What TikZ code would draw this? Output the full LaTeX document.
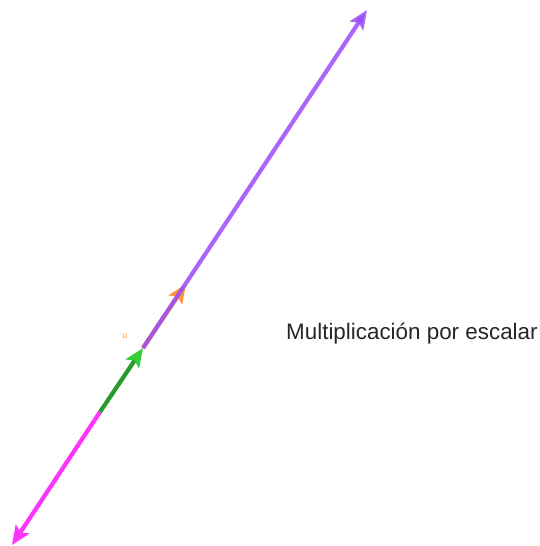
\documentclass[tikz,border=0pt]{standalone}
\usepackage{fontspec}
\setmainfont{Liberation Sans}
\usetikzlibrary{arrows.meta}
\definecolor{vpurple}{RGB}{155,75,250}
\definecolor{vmagenta}{RGB}{255,50,255}
\definecolor{vgreen}{RGB}{55,205,55}
\definecolor{vorange}{RGB}{255,150,60}
\tikzset{
  vec/.style={line width=4.2pt, -{Stealth[length=19pt,width=16pt,inset=4pt]}},
}
\begin{document}
\begin{tikzpicture}[x=1pt,y=-1pt]
\useasboundingbox (0,0) rectangle (539,546);
\coordinate (A) at (100,412);
\coordinate (B) at (143,348);
\coordinate (U) at (186,284);
\coordinate (P) at (367,10);
\coordinate (M) at (12,545);
\draw[vec, vmagenta] (A) -- (M);
\draw[line width=4.2pt, vgreen!75!black, -{Stealth[length=19pt,width=16pt,inset=4pt,color=vgreen]}] (A) -- (B);
\draw[vec, vorange] (B) -- (U);
\draw[vec, vpurple, opacity=0.85] (B) -- (P);
\node[text=vorange, font=\fontsize{9}{10}\selectfont, inner sep=0pt] (ulab) at (125,336) {u};
\node[anchor=west, inner sep=0pt, font=\fontsize{22.4}{26}\selectfont, text=black!85] (title) at (286,334) {Multiplicación por escalar};
\end{tikzpicture}
\end{document}
